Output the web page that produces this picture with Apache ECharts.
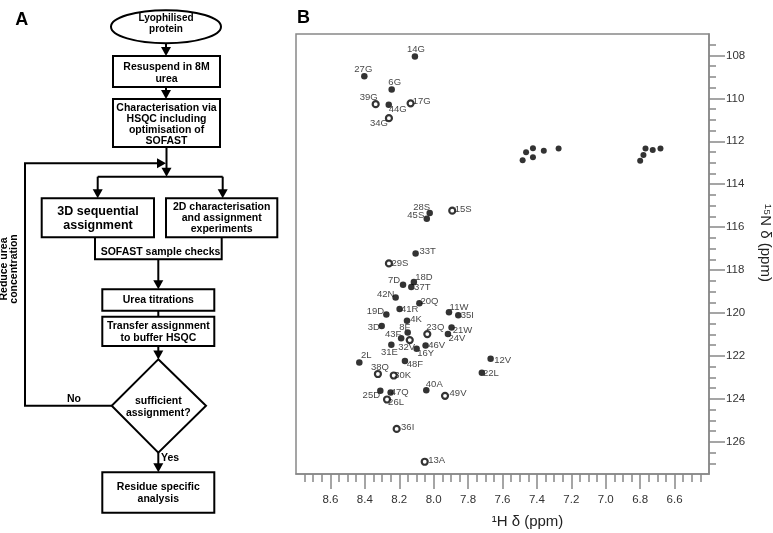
<!DOCTYPE html>
<html><head><meta charset="utf-8">
<script src="https://cdn.jsdelivr.net/npm/echarts@6/dist/echarts.min.js"></script>
<style>html,body{margin:0;padding:0;background:#fff}#c{width:773px;height:533px}</style>
</head><body><div id="c"></div>
<script>
// ---- Panel B data: assigned backbone amide peaks (1H ppm, 15N ppm) ----
const residues = ['14G','27G','6G','39G','44G','17G','34G','28S','45S','15S',
  '33T','29S','7D','18D','37T','42N','20Q','41R','11W','35I',
  '19D','4K','3D','23Q','21W','24V','8F','43F','32V','31E',
  '16Y','46V','12V','2L','48F','38Q','30K','22L','40A','49V',
  '25D','47Q','26L','36I','13A'];
const shiftH = [8.109,8.403,8.244,8.337,8.261,8.134,8.260,8.023,8.040,7.892,
  8.105,8.260,8.178,8.115,8.130,8.221,8.083,8.198,7.911,7.857,
  8.275,8.155,8.302,8.037,7.896,7.917,8.151,8.189,8.139,8.246,
  8.099,8.047,7.669,8.432,8.167,8.324,8.232,7.720,8.043,7.934,
  8.310,8.250,8.271,8.215,8.052];
const shiftN = [108.05,108.97,109.58,110.27,110.30,110.23,110.92,115.34,115.61,115.23,
  117.23,117.69,118.68,118.56,118.79,119.28,119.54,119.81,119.96,120.10,
  120.07,120.36,120.61,120.98,120.67,120.98,120.91,121.18,121.26,121.48,
  121.66,121.51,122.13,122.31,122.23,122.84,122.91,122.78,123.60,123.86,
  123.62,123.70,124.03,125.40,126.93];
// unassigned side-chain NH2 peaks
const sidechainH = [7.483,7.463,7.423,7.423,7.360,7.274,6.800,6.781,6.769,6.727,6.682];
const sidechainN = [112.88,112.51,112.32,112.74,112.44,112.33,112.91,112.64,112.33,112.41,112.33];
// peaks drawn as open contours
const ringPeaks = ['39G','34G','17G','15S','29S','23Q','32V','38Q','30K','49V','26L','36I','13A'];
// axis tick labels
const hTicks = [8.6,8.4,8.2,8.0,7.8,7.6,7.4,7.2,7.0,6.8,6.6];
const nTicks = [108,110,112,114,116,118,120,122,124,126];

// ---- styling: label offsets (px) ----
const labelOffset = {
'14G':[1,-7],'27G':[-1,-7],'6G':[3,-7],'39G':[-7,-7],'44G':[9,5],'17G':[11,-2],'34G':[-10,5],
'28S':[-8,-6],'45S':[-11,-3],'15S':[11,-1],'33T':[12,-2],'29S':[11,0],'7D':[-9,-4],'18D':[10,-5],'37T':[11,0],
'42N':[-10,-3],'20Q':[10,-2],'41R':[10,0],'11W':[10,-5],'35I':[9,0],'19D':[-11,-3],'4K':[9,-1],'3D':[-8,1],
'23Q':[8,-7],'21W':[11,3],'24V':[9,4],'8F':[-3,-5],'43F':[-8,-4],'32V':[-3,7],'31E':[-2,8],'16Y':[9,5],
'46V':[11,0],'12V':[12,2],'2L':[7,-7],'48F':[10,3],'38Q':[2,-7],'30K':[9,0],'22L':[9,1],'40A':[8,-6],
'49V':[13,-2],'25D':[-9,5],'47Q':[9,0],'26L':[9,3],'36I':[11,-2],'13A':[12,-1]};

function range(a,b,s){const r=[];for(let v=a;v<=b+1e-9;v+=s)r.push(Math.round(v*100)/100);return r;}
const hMinor = range(6.45,8.75,0.05);
const nMinor = range(107.5,127,0.5);

const FONT = 'Liberation Sans';
const LW = 2;
// ---- Panel A flowchart helpers ----
function box(x,y,w,h){return {type:'rect',shape:{x:x,y:y,width:w,height:h},style:{fill:'#fff',stroke:'#000',lineWidth:LW},z:10};}
function txt(x,y,t,size,lh,align){return {type:'text',x:x,y:y,z:20,style:{text:t,fontSize:size,fontWeight:'bold',fontFamily:FONT,fill:'#000',align:align||'center',verticalAlign:'middle',lineHeight:lh||size*1.1}};}
function seg(x1,y1,x2,y2){return {type:'line',shape:{x1:x1,y1:y1,x2:x2,y2:y2},style:{stroke:'#000',lineWidth:LW},z:5};}
function poly(pts){return {type:'polyline',shape:{points:pts},style:{stroke:'#000',lineWidth:LW,fill:null},z:5};}
function head(x,y,dir){const L=9,W=5;let p;
  if(dir==='down')p=[[x,y],[x-W,y-L],[x+W,y-L]];
  else if(dir==='right')p=[[x,y],[x-L,y-W],[x-L,y+W]];
  return {type:'polygon',shape:{points:p},style:{fill:'#000'},z:15};}
function vtxt(x,y,t,size){return {type:'text',x:x,y:y,rotation:Math.PI/2,z:20,style:{text:t,fontSize:size,fontWeight:'bold',fontFamily:FONT,fill:'#000',align:'center',verticalAlign:'middle'}};}

const flow = [
  {type:'ellipse',shape:{cx:166,cy:26.7,rx:55,ry:16.5},style:{fill:'#fff',stroke:'#000',lineWidth:LW},z:10},
  txt(166,23.5,'Lyophilised\nprotein',10,11),
  seg(166,43,166,52), head(166,56,'down'),
  box(113,56,107,31), txt(166.5,73,'Resuspend in 8M\nurea',10.5,12),
  seg(166,87,166,95), head(166,99,'down'),
  box(113,99,107,48), txt(166.5,124.5,'Characterisation via\nHSQC including\noptimisation of\nSOFAST',10.5,10.8),
  seg(166.5,147,166.5,170), head(166.5,176.7,'down'),
  poly([[111.7,405.7],[25,405.7],[25,163.3],[158,163.3]]), head(166,163.3,'right'),
  seg(97.7,176.7,222.7,176.7),
  seg(97.7,176.7,97.7,192), head(97.7,198.3,'down'),
  seg(222.7,176.7,222.7,192), head(222.7,198.3,'down'),
  box(41.7,198.3,112.3,39), txt(98,218.3,'3D sequential\nassignment',12.5,13.5),
  box(166,198.3,111.3,39), txt(221.7,218.3,'2D characterisation\nand assignment\nexperiments',10.5,11),
  poly([[95,237.3],[95,259.3],[221.7,259.3],[221.7,237.3]]),
  txt(160.5,252.5,'SOFAST sample checks',10.5),
  seg(158.3,259.3,158.3,282), head(158.3,289.3,'down'),
  box(102.3,289.3,112,21.4), txt(158.3,300.3,'Urea titrations',10.5),
  seg(158.3,310.7,158.3,316.7),
  box(102.3,316.7,112,29.3), txt(158.3,331.7,'Transfer assignment\nto buffer HSQC',10.5,12),
  seg(158.3,346,158.3,352), head(158.3,359.5,'down'),
  {type:'polygon',shape:{points:[[158.3,359.3],[206,405.7],[158.3,452.7],[111.7,405.7]]},style:{fill:'#fff',stroke:'#000',lineWidth:LW},z:10},
  txt(158.3,407.5,'sufficient\nassignment?',10.5,11.8),
  txt(74,399.3,'No',10.5),
  seg(158.3,452.7,158.3,465), head(158.3,472.3,'down'),
  txt(161,458.3,'Yes',10.5,null,'left'),
  box(102.3,472.3,112,40.4), txt(158.3,492.7,'Residue specific\nanalysis',10.5,12),
  vtxt(4.5,269,'Reduce urea',10.5),
  vtxt(14.5,269,'concentration',10.5),
  {type:'text',x:21.7,y:20,z:20,style:{text:'A',fontSize:18,fontWeight:'bold',fontFamily:FONT,fill:'#000',align:'center',verticalAlign:'middle'}},
  {type:'text',x:303.5,y:18.5,z:20,style:{text:'B',fontSize:18,fontWeight:'bold',fontFamily:FONT,fill:'#000',align:'center',verticalAlign:'middle'}},
  {type:'text',x:527.5,y:522,z:20,style:{text:'¹H δ (ppm)',fontSize:15,fontFamily:FONT,fill:'#222',align:'center',verticalAlign:'middle'}},
  {type:'text',x:765,y:243,rotation:-Math.PI/2,z:20,style:{text:'¹⁵N δ (ppm)',fontSize:15,fontFamily:FONT,fill:'#222',align:'center',verticalAlign:'middle'}}
];

const ringStyle = {color:'#fff',borderColor:'#000',borderWidth:2.2};
const peakData = residues.map((r,i)=>{
  const d = {name:r, value:[shiftH[i], shiftN[i]], label:{offset:labelOffset[r]||[10,0]}};
  if (ringPeaks.indexOf(r)>=0) { d.itemStyle = ringStyle; d.symbolSize = 6; }
  return d;
});
const scData = sidechainH.map((h,i)=>[h, sidechainN[i]]);

const axisGray = '#888';
const chart = echarts.init(document.getElementById('c'), null, {renderer:'canvas'});
chart.setOption({
  animation:false,
  backgroundColor:'#fff',
  graphic:{elements:flow},
  grid:{left:296, top:34, right:64, bottom:59, show:true, borderColor:axisGray, borderWidth:1.5, backgroundColor:'transparent'},
  xAxis:[{
    type:'value', position:'bottom', inverse:true, min:6.4, max:8.8,
    axisLine:{show:true, lineStyle:{color:axisGray,width:1.5}},
    axisTick:{show:true, inside:false, length:15, customValues:hTicks, lineStyle:{color:axisGray,width:1.5}},
    axisLabel:{customValues:hTicks, formatter:v=>Number(v).toFixed(1), fontSize:11.5, fontFamily:FONT, color:'#333', margin:20},
    splitLine:{show:false}
  },{
    type:'value', position:'bottom', inverse:true, min:6.4, max:8.8,
    axisLine:{show:false},
    axisTick:{show:true, inside:false, length:8, customValues:hMinor, lineStyle:{color:axisGray,width:1.5}},
    axisLabel:{show:false}, splitLine:{show:false}
  }],
  yAxis:[{
    type:'value', position:'right', inverse:true, min:107, max:127.5,
    axisLine:{show:true, lineStyle:{color:axisGray,width:1.5}},
    axisTick:{show:true, inside:false, length:16, customValues:nTicks, lineStyle:{color:axisGray,width:1.5}},
    axisLabel:{customValues:nTicks, fontSize:11.5, fontFamily:FONT, color:'#333', margin:17},
    splitLine:{show:false}
  },{
    type:'value', position:'right', inverse:true, min:107, max:127.5,
    axisLine:{show:false},
    axisTick:{show:true, inside:false, length:7, customValues:nMinor, lineStyle:{color:axisGray,width:1.5}},
    axisLabel:{show:false}, splitLine:{show:false}
  }],
  series:[{
    type:'scatter', xAxisIndex:0, yAxisIndex:0, symbol:'circle', symbolSize:6.5, silent:true,
    itemStyle:{color:'#000'},
    label:{show:true, position:'inside', formatter:p=>p.name, fontSize:9.5, fontFamily:FONT, color:'#111'},
    data:peakData
  },{
    type:'scatter', xAxisIndex:0, yAxisIndex:0, symbol:'circle', symbolSize:6, silent:true,
    itemStyle:{color:'#000'}, data:scData
  }]
});
</script></body></html>
